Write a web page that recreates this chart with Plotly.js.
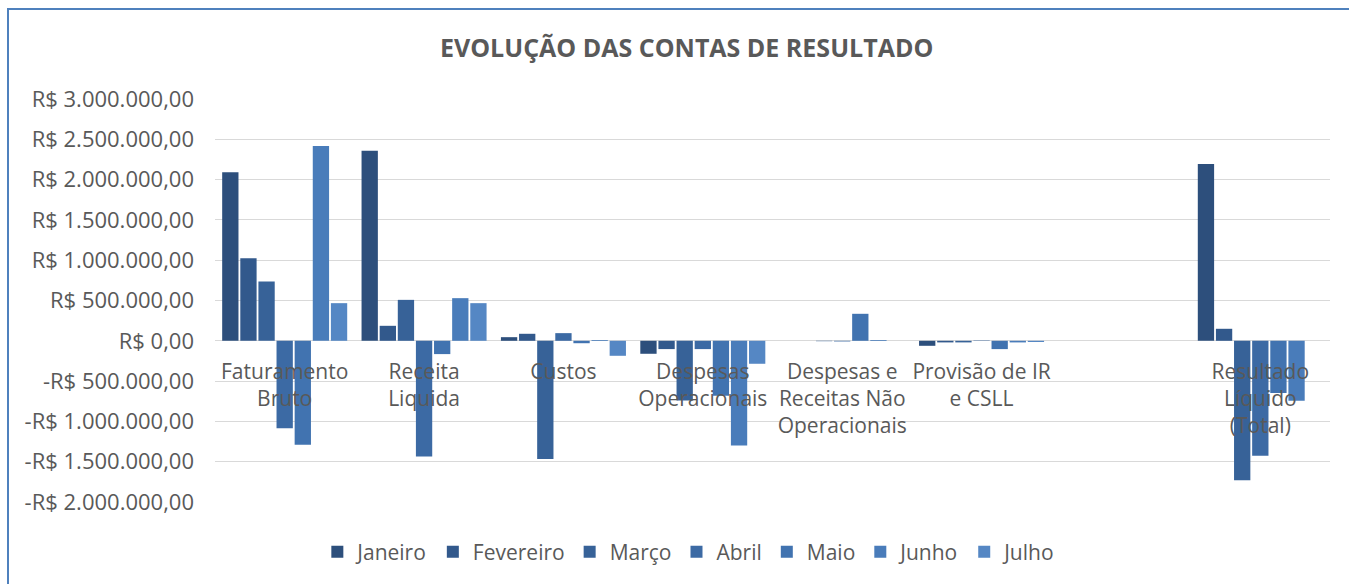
<!DOCTYPE html>
<html>
<head>
<meta charset="utf-8">
<script src="https://cdn.plot.ly/plotly-3.0.1.min.js"></script>
<style>
  html, body { margin: 0; padding: 0; background: #fff; }
  #wrap { position: relative; width: 1349px; height: 584px; overflow: hidden; }
  #chart { position: absolute; left: 0; top: 0; width: 1349px; height: 584px; }
  #frame { position: absolute; left: 7px; top: 8px; width: 1400px; height: 700px;
           border-top: 2px solid #4f81bd; border-left: 2px solid #4f81bd; pointer-events: none; }
</style>
</head>
<body>
<div id="wrap">
  <div id="chart"></div>
  <div id="frame"></div>
</div>
<script>
const categories = [
  "Faturamento<br>Bruto",
  "Receita<br>Liquida",
  "Custos",
  "Despesas<br>Operacionais",
  "Despesas e<br>Receitas Não<br>Operacionais",
  "Provisão de IR<br>e CSLL",
  " ",
  "Resultado<br>Líquido<br>(Total)"
];
const months = ["Janeiro", "Fevereiro", "Março", "Abril", "Maio", "Junho", "Julho"];

const janeiro   = [2090000, 2359000,    45000,  -161000,     0,  -62000, null,  2194000];
const fevereiro = [1025000,  186000,    87000,  -103000,     0,  -20000, null,   149000];
const marco     = [ 735000,  508000, -1467000,  -740000, -5000,  -20000, null, -1731000];
const abril     = [-1085000, -1434000,  95000,  -103000, -8000,    5000, null, -1426000];
const maio      = [-1290000, -165000,  -30000,  -682000, 335000, -103000, null,  -649000];
const junho     = [2417000,  529000,    10000, -1300000, 10000,  -20000, null,  -744000];
const julho     = [ 467000,  467000,  -186000,  -285000,     0,  -15000, null,        0];

const seriesValues = [janeiro, fevereiro, marco, abril, maio, junho, julho];

const tickVals = [3000000, 2500000, 2000000, 1500000, 1000000, 500000, 0,
                  -500000, -1000000, -1500000, -2000000];
const tickText = ["R$ 3.000.000,00", "R$ 2.500.000,00", "R$ 2.000.000,00", "R$ 1.500.000,00",
                  "R$ 1.000.000,00", "R$ 500.000,00", "R$ 0,00", "-R$ 500.000,00",
                  "-R$ 1.000.000,00", "-R$ 1.500.000,00", "-R$ 2.000.000,00"];

const colors = ["#2d4f7c", "#32598c", "#376298", "#3c6aa4", "#4173b0", "#497cba", "#5587c4"];
const edges  = ["#223d61", "#26446d", "#2a4b77", "#2e5181", "#32588b", "#385f94", "#40689f"];

const textColor = "#595959";
const fontFam = "'Open Sans', 'Noto Sans', sans-serif";

const traces = months.map((m, i) => ({
  type: "bar",
  name: m,
  x: categories,
  y: seriesValues[i],
  marker: { color: colors[i], line: { color: edges[i], width: 0 } },
  hoverinfo: "skip"
}));

const layout = {
  width: 1349,
  height: 584,
  paper_bgcolor: "#ffffff",
  plot_bgcolor: "#ffffff",
  margin: { l: 215, r: 19, t: 99, b: 82 },
  font: { family: fontFam, color: textColor, size: 21 },
  title: {
    text: "<b>EVOLUÇÃO DAS CONTAS DE RESULTADO</b>",
    font: { family: fontFam, size: 25, color: textColor },
    x: 0.509, xref: "container", xanchor: "center",
    y: 1 - 48 / 584, yref: "container", yanchor: "middle"
  },
  barmode: "group",
  bargap: 0.09,
  bargroupgap: 0.1,
  showlegend: true,
  legend: {
    orientation: "h",
    xref: "container", yref: "container",
    x: 0.511, xanchor: "center",
    y: 1 - 552 / 584, yanchor: "middle",
    font: { family: fontFam, size: 21, color: textColor },
    itemwidth: 30,
    traceorder: "normal"
  },
  xaxis: {
    type: "category",
    anchor: "free",
    position: 0.4,
    showgrid: false,
    showline: false,
    zeroline: false,
    ticks: "",
    tickangle: 0,
    ticklabelstandoff: 16,
    tickfont: { family: fontFam, size: 21, color: textColor }
  },
  yaxis: {
    range: [-2000000, 3000000],
    tickmode: "array",
    tickvals: tickVals,
    ticktext: tickText,
    showgrid: true,
    gridcolor: "#d9d9d9",
    gridwidth: 1,
    zeroline: true,
    zerolinecolor: "#d9d9d9",
    zerolinewidth: 1,
    showline: false,
    ticks: "",
    ticklabelstandoff: 20,
    tickfont: { family: fontFam, size: 22, color: textColor }
  }
};

Plotly.newPlot("chart", traces, layout, { displayModeBar: false, staticPlot: true });
</script>
</body>
</html>
